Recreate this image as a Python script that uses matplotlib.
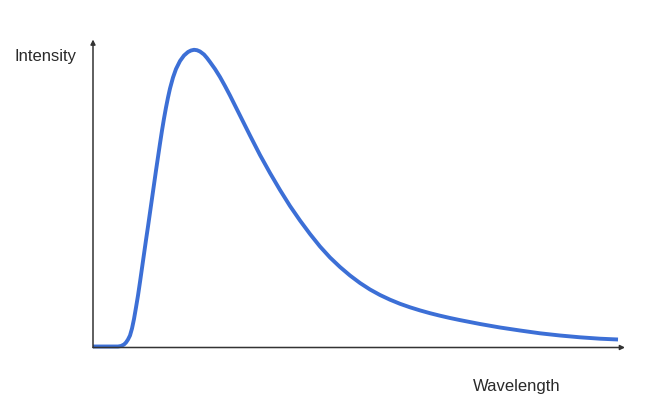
import matplotlib.pyplot as plt

# valores (unidades arbitrarias)
wavelength = [0, 25, 28, 31, 33, 35, 37, 39, 41, 43, 45, 47, 49, 51, 53, 55, 57, 59,
              61, 63, 65, 67, 69, 71, 73, 75, 77, 80, 83, 87, 91, 95, 98, 101, 104,
              107, 111, 114, 117, 122, 127, 132, 137, 147, 157, 167, 177, 187, 197,
              207, 217, 227, 237, 247, 257, 267, 277, 287, 297, 307, 317, 327, 337,
              347, 357, 367, 387, 407, 427, 447, 467, 487, 507, 525]
intensity = [1, 1, 1.5, 3, 5, 8, 12, 19, 28.5, 40, 52, 65.5, 79.5, 93.5, 107.5, 121, 135, 149,
             163, 177, 190.5, 204, 217, 229, 240, 250, 259, 270, 278.5, 286.5, 292, 295.5, 297, 297.7, 297.3,
             296, 293, 289.5, 285.5, 278.5, 270.5, 261.5, 252, 232, 212, 192.5, 174.5, 157.5, 141.5,
             127, 113.5, 101, 90, 80.5, 72, 64.5, 58, 52.5, 47.8, 43.7, 40.2, 37.1, 34.3,
             31.8, 29.5, 27.4, 23.5, 20, 17, 14.2, 12, 10.2, 8.8, 8]

x_label = "Wavelength"
y_label = "Intensity"

plt.rcParams['font.family'] = ['Liberation Sans', 'DejaVu Sans']

fig = plt.figure(figsize=(6.48, 4.03), dpi=100)
ax = fig.add_axes([93 / 648, 55.5 / 403, 532 / 648, 308 / 403])

ax.plot(wavelength, intensity, color='#3c6fd6', lw=2.8, solid_capstyle='butt',
        solid_joinstyle='round', clip_on=False)

ax.set_xlim(0, 532)
ax.set_ylim(0, 308)

# ejes con flechas
for s in ax.spines.values():
    s.set_visible(False)
ax.set_xticks([])
ax.set_yticks([])
flecha = dict(arrowstyle='-|>', color='#333333', lw=1.1, mutation_scale=7,
              shrinkA=0, shrinkB=0)
ax.annotate('', xy=(1, 0), xytext=(0, 0), xycoords='axes fraction', arrowprops=flecha)
ax.annotate('', xy=(0, 1), xytext=(0, 0), xycoords='axes fraction', arrowprops=flecha)

fig.text(15 / 648, 1 - 56 / 403, y_label, fontsize=12, color='#2a2a2a',
         ha='left', va='center')
fig.text(473 / 648, 1 - 386 / 403, x_label, fontsize=12, color='#2a2a2a',
         ha='left', va='center')

fig.savefig('out.png', dpi=100)
